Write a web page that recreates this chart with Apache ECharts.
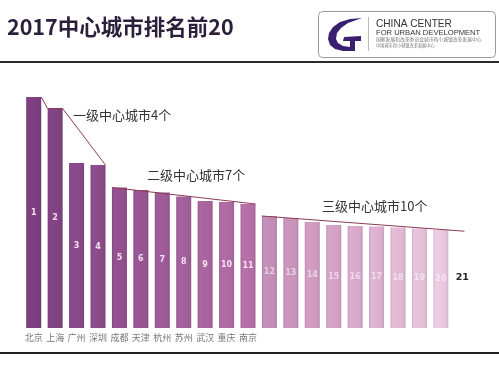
<!DOCTYPE html>
<html>
<head>
<meta charset="utf-8">
<script src="https://cdn.jsdelivr.net/npm/echarts@6/dist/echarts.min.js"></script>
<style>
html,body{margin:0;padding:0;background:#fff;}
#c{width:499px;height:372px;}
</style>
</head>
<body>
<div id="c"></div>
<script>
// ---- data ----
const title = '2017中心城市排名前20';
const cities = ['北京','上海','广州','深圳','成都','天津','杭州','苏州','武汉','重庆','南京','','','','','','','','','',''];
const ranks = ['1','2','3','4','5','6','7','8','9','10','11','12','13','14','15','16','17','18','19','20','21'];
const scores = [231, 219.5, 165, 163, 140.5, 138, 135.5, 131.5, 127, 126, 124, 112, 110, 106, 103, 102, 101.5, 100.5, 99.5, 98];
const rank21Level = 100; // position of the unfilled 21st slot's label
const tierNames = ['一级中心城市4个', '二级中心城市7个', '三级中心城市10个'];
const tierRanges = [[0, 3], [4, 10], [11, 19]];

// ---- styles ----
const barColors = ['#7b3e7d','#7f4281','#864886','#894a88','#8f4f8c','#955490','#9b5995','#a05e99','#a6639c','#ab689f','#b16ea3',
  '#c08bb5','#c691b9','#cd98be','#d09fc2','#d5a6c7','#d9aecc','#deb6d1','#e2bdd6','#e7c5dc'];
const half = 0.35;

function shade(hex, f) {
  const n = parseInt(hex.slice(1), 16);
  let r = (n >> 16) & 255, g = (n >> 8) & 255, b = n & 255;
  r = Math.round(Math.min(255, r * f)); g = Math.round(Math.min(255, g * f)); b = Math.round(Math.min(255, b * f));
  return 'rgb(' + r + ',' + g + ',' + b + ')';
}

const barData = scores.map((v, i) => ({
  value: v,
  itemStyle: {
    color: {type: 'linear', x: 0, y: 0, x2: 1, y2: 0, colorStops: [
      {offset: 0, color: shade(barColors[i], 0.93)},
      {offset: 0.15, color: shade(barColors[i], 1.04)},
      {offset: 0.85, color: barColors[i]},
      {offset: 1, color: shade(barColors[i], 0.9)}
    ]}
  },
  label: {color: i < 11 ? 'rgba(250,232,248,0.95)' : 'rgba(255,255,255,0.55)'}
}));
barData.push({value: rank21Level, itemStyle: {color: 'rgba(0,0,0,0)'}, label: {color: '#222', fontSize: 9.5}});

// tier trend lines, built from the scores
const t1 = tierRanges[0];
const tier1 = [[t1[0] + half, scores[t1[0]]], [t1[0] + 1 - half, scores[t1[0] + 1]], [t1[0] + 1 + half, scores[t1[0] + 1]], [t1[1] + half, scores[t1[1]]]];
const t2 = tierRanges[1];
const tier2 = [[t2[0] - half, scores[t2[0]]], [t2[1] + half, scores[t2[1]]]];
const t3 = tierRanges[2];
const x3a = t3[0] - half, x3b = t3[1] + half;
const slope3 = (scores[t3[1]] - scores[t3[0]]) / (x3b - x3a);
const x3end = t3[1] + 1.1;
const tier3 = [[x3a, scores[t3[0]]], [x3end, scores[t3[0]] + slope3 * (x3end - x3a)]];

const lineStyleTier = {color: '#8a3c52', width: 1};
function tierSeries(d) {
  return {type: 'line', xAxisIndex: 1, data: d, symbol: 'none', lineStyle: lineStyleTier, z: 5, silent: true, animation: false};
}

const chart = echarts.init(document.getElementById('c'), null, {renderer: 'canvas'});
chart.setOption({
  backgroundColor: '#fff',
  animation: false,
  grid: {left: 23, right: 26, top: 88, bottom: 44},
  xAxis: [
    {type: 'category', data: cities, axisLine: {show: false}, axisTick: {show: false},
      axisLabel: {interval: 0, fontSize: 9, color: '#777', margin: 5, fontFamily: 'Noto Sans CJK SC'}},
    {type: 'value', min: -0.5, max: 20.5, show: false}
  ],
  yAxis: {type: 'value', min: 0, max: 240, show: false},
  series: [
    {type: 'bar', data: barData, barWidth: 15, z: 2,
      label: {show: true, position: 'inside', fontSize: 8, fontWeight: 'bold', fontFamily: 'DejaVu Sans',
        formatter: p => ranks[p.dataIndex]}},
    tierSeries(tier1), tierSeries(tier2), tierSeries(tier3)
  ],
  graphic: [
    {type: 'text', x: 7, y: 16, style: {text: title, font: 'bold 21.5px "Noto Sans CJK SC"', fill: '#2b1f3c'}},
    {type: 'rect', shape: {x: 0, y: 61, width: 499, height: 2}, style: {fill: '#2a2a2a'}},
    {type: 'rect', shape: {x: 318.5, y: 11.5, width: 177, height: 46, r: 4}, style: {fill: '#fff', stroke: '#9a9a9a', lineWidth: 1}},
    {type: 'polygon', shape: {points: [[362,18],[350,19],[340,22],[333,27],[329,33],[328,39],[330,45],[335,49],[343,51],[350,51],[350,47],[343,46],[338,43],[336,39],[337,33],[341,28],[348,23]]},
      style: {fill: '#3b2070'}},
    {type: 'polygon', shape: {points: [[344,37],[361,36],[361,41],[355,41],[355,51],[350,51],[350,41],[343,41]]},
      style: {fill: '#3b2070'}},
    {type: 'rect', shape: {x: 368, y: 17, width: 0.8, height: 34}, style: {fill: '#aaa'}},
    {type: 'text', x: 376, y: 18, scaleX: 0.88, style: {text: 'CHINA CENTER', font: '11.5px "Liberation Sans"', fill: '#333'}},
    {type: 'text', x: 376, y: 28.5, style: {text: 'FOR URBAN DEVELOPMENT', font: '7.6px "Liberation Sans"', fill: '#333'}},
    {type: 'text', x: 376, y: 37, style: {text: '国家发展和改革委员会城市和小城镇改革发展中心', font: '4.8px "Noto Sans CJK SC"', fill: '#777'}},
    {type: 'text', x: 376, y: 43, style: {text: '中国城市和小城镇改革发展中心', font: '4.2px "Noto Sans CJK SC"', fill: '#777'}},
    {type: 'text', x: 73, y: 109, style: {text: tierNames[0], font: '13px "Noto Sans CJK SC"', fill: '#333'}},
    {type: 'text', x: 147, y: 169, style: {text: tierNames[1], font: '13px "Noto Sans CJK SC"', fill: '#333'}},
    {type: 'text', x: 322, y: 200, style: {text: tierNames[2], font: '13px "Noto Sans CJK SC"', fill: '#333'}},
    {type: 'rect', shape: {x: 0, y: 352, width: 499, height: 2}, style: {fill: '#222'}}
  ]
});
</script>
</body>
</html>
